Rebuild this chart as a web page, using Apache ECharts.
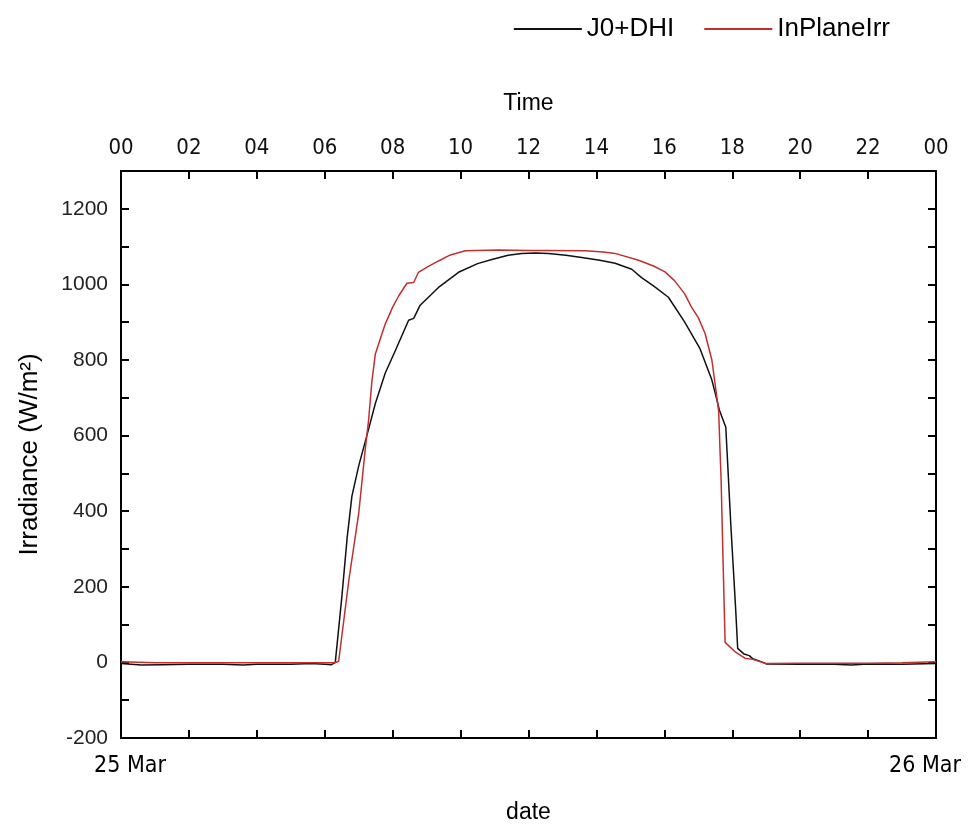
<!DOCTYPE html>
<html>
<head>
<meta charset="utf-8">
<script src="https://cdn.jsdelivr.net/npm/echarts@6/dist/echarts.min.js"></script>
<style>html,body{margin:0;padding:0;background:#fff;overflow:hidden}#c{width:980px;height:829px}</style>
</head>
<body>
<div id="c"></div>
<script>
// Hours of day (0-24) and values in W/m²
var hoursJ0 = [0, 0.6, 1.2, 2, 3, 3.6, 4, 5, 5.6, 6, 6.2, 6.31, 6.5, 6.66, 6.8, 7.0, 7.24, 7.49, 7.78, 8.08, 8.47, 8.62, 8.81, 9.35, 9.94, 10.5, 10.92, 11.4, 11.8, 12.2, 12.59, 13.1, 13.57, 14.1, 14.55, 15.04, 15.33, 15.7, 16.12, 16.6, 17.05, 17.39, 17.5, 17.62, 17.81, 17.96, 18.1, 18.16, 18.35, 18.5, 18.6, 18.85, 19.0, 20, 21, 21.5, 22, 23, 24];
var j0dhi   = [-3, -7, -6, -5, -5, -7, -5, -5, -3, -5, -6, 0, 170, 330, 440, 520, 600, 685, 765, 825, 905, 910, 945, 992, 1032, 1055, 1066, 1077, 1082, 1083, 1082, 1077, 1071, 1064, 1056, 1040, 1018, 995, 966, 900, 830, 750, 712, 668, 622, 360, 142, 37, 22, 18, 10, 2, -4, -5, -5, -7, -4, -5, -3];
var hoursIrr = [0, 1, 2, 3, 4, 5, 6, 6.3, 6.41, 6.71, 7.0, 7.2, 7.29, 7.39, 7.49, 7.78, 8.0, 8.18, 8.42, 8.62, 8.76, 9.0, 9.35, 9.7, 10.14, 11.1, 12.0, 12.59, 13.67, 14.2, 14.55, 15.24, 15.7, 16.02, 16.3, 16.6, 16.8, 17.0, 17.2, 17.4, 17.52, 17.6, 17.64, 17.67, 17.74, 17.79, 18.1, 18.37, 18.6, 19.0, 20, 21, 22, 23, 24];
var inPlaneIrr = [2, -1, -1, -1, -1, -1, -1, -1, 3, 218, 394, 570, 640, 745, 816, 895, 940, 970, 1003, 1005, 1032, 1045, 1062, 1078, 1089, 1091, 1090, 1090, 1089, 1086, 1082, 1064, 1048, 1033, 1010, 975, 940, 912, 870, 800, 720, 665, 560, 490, 230, 53, 27, 11, 8, -3, -2, -2, -2, -1, 2];
var topTickLabels = ['00','02','04','06','08','10','12','14','16','18','20','22','00'];
var dateLabels = {0: '25 Mar', 24: '26 Mar'};

function pairs(xs, ys){ return xs.map(function(x,i){ return [x, ys[i]]; }); }

var narrow = "'Liberation Sans Narrow', 'DejaVu Sans Condensed', 'Arial Narrow', sans-serif";
var sans = "'Liberation Sans', Arial, sans-serif";
var axisLine = {show:true, onZero:false, lineStyle:{color:'#000', width:2}};
var tick = {show:true, inside:true, length:8, lineStyle:{color:'#000', width:2}};
var dateFont = {fontFamily:narrow, fontSize:23, color:'#000'};

var chart = echarts.init(document.getElementById('c'), null, {renderer:'canvas'});
chart.setOption({
  animation:false,
  backgroundColor:'#fff',
  legend:{
    right:85, top:11, itemWidth:68, itemHeight:2, itemGap:30,
    icon:'rect',
    textStyle:{fontFamily:sans, fontSize:26, color:'#000'},
    data:['J0+DHI','InPlaneIrr']
  },
  grid:{left:121, right:44, top:171, bottom:86, containLabel:false},
  xAxis:[
    {type:'value', position:'top', min:0, max:24, interval:2,
     name:'Time', nameLocation:'middle', nameGap:56,
     nameTextStyle:{fontFamily:sans, fontSize:23, color:'#000'},
     axisLine:axisLine, axisTick:tick, splitLine:{show:false},
     axisLabel:{fontFamily:narrow, fontSize:22, color:'#111', margin:12,
       formatter:function(v){ return topTickLabels[Math.round(v/2)]; }}},
    {type:'value', position:'bottom', min:0, max:24, interval:2,
     name:'date', nameLocation:'middle', nameGap:63,
     nameTextStyle:{fontFamily:sans, fontSize:23, color:'#000'},
     axisLine:axisLine, axisTick:tick, splitLine:{show:false},
     axisLabel:{margin:17, showMinLabel:true, showMaxLabel:true,
       fontFamily:narrow, fontSize:23, color:'#000',
       rich:{
         l:Object.assign({padding:[0,0,0,18]}, dateFont),
         r:Object.assign({padding:[0,22,0,0]}, dateFont)
       },
       formatter:function(v){
         if (v === 0) return '{l|' + dateLabels[0] + '}';
         if (v === 24) return '{r|' + dateLabels[24] + '}';
         return '';
       }}}
  ],
  yAxis:[
    {type:'value', position:'left', min:-200, max:1300, interval:100,
     name:'Irradiance (W/m²)', nameLocation:'middle', nameGap:78, nameRotate:90,
     nameTextStyle:{fontFamily:sans, fontSize:26, color:'#000'},
     axisLine:axisLine, axisTick:tick, splitLine:{show:false},
     axisLabel:{fontFamily:sans, fontSize:21, color:'#222', margin:13,
       formatter:function(v){ return (v % 200 === 0 && v <= 1200) ? String(v) : ''; }}},
    {type:'value', position:'right', min:-200, max:1300, interval:100,
     axisLine:axisLine, axisTick:tick, splitLine:{show:false}, axisLabel:{show:false}}
  ],
  series:[
    {name:'J0+DHI', type:'line', xAxisIndex:0, yAxisIndex:0, showSymbol:false, symbol:'none',
     lineStyle:{color:'#111', width:1.5}, itemStyle:{color:'#111'},
     data:pairs(hoursJ0, j0dhi)},
    {name:'InPlaneIrr', type:'line', xAxisIndex:0, yAxisIndex:0, showSymbol:false, symbol:'none',
     lineStyle:{color:'#c03030', width:1.5}, itemStyle:{color:'#c03030'},
     data:pairs(hoursIrr, inPlaneIrr)}
  ]
});
</script>
</body>
</html>
